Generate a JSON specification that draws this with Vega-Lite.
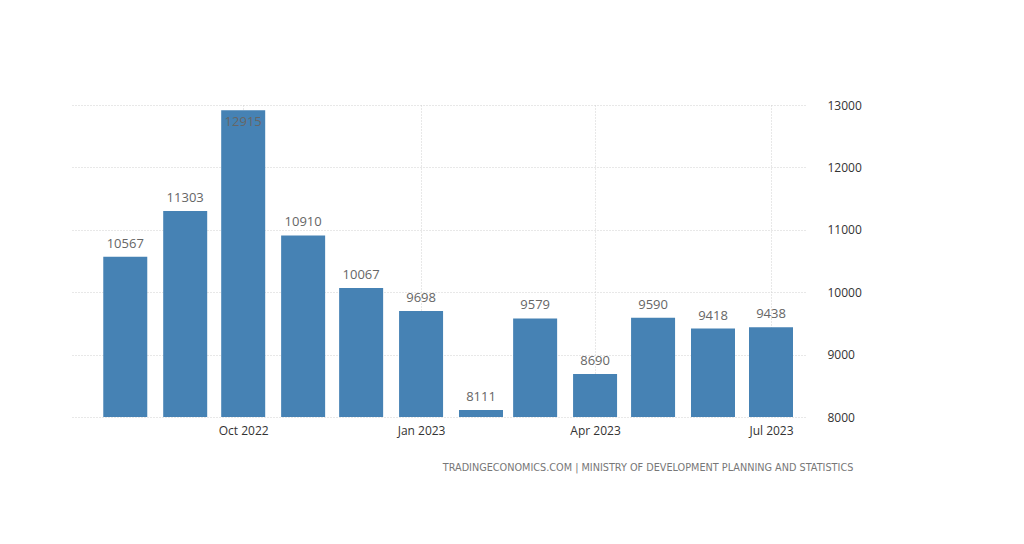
{
  "$schema": "https://vega.github.io/schema/vega-lite/v6.json",
  "width": 735,
  "height": 312,
  "padding": {"left": 70, "top": 99, "right": 10, "bottom": 10},
  "background": "white",
  "config": {
    "view": {"stroke": null},
    "font": "Open Sans"
  },
  "title": {
    "text": "TRADINGECONOMICS.COM  |  MINISTRY OF DEVELOPMENT PLANNING AND STATISTICS",
    "orient": "bottom",
    "anchor": "end",
    "frame": "bounds",
    "font": "DejaVu Sans",
    "fontSize": 9.7,
    "fontWeight": "normal",
    "color": "#777777",
    "offset": 27,
    "dx": -8
  },
  "data": {
    "values": [
      {"month": "2022-08-01", "value": 10567},
      {"month": "2022-09-01", "value": 11303},
      {"month": "2022-10-01", "value": 12915},
      {"month": "2022-11-01", "value": 10910},
      {"month": "2022-12-01", "value": 10067},
      {"month": "2023-01-01", "value": 9698},
      {"month": "2023-02-01", "value": 8111},
      {"month": "2023-03-01", "value": 9579},
      {"month": "2023-04-01", "value": 8690},
      {"month": "2023-05-01", "value": 9590},
      {"month": "2023-06-01", "value": 9418},
      {"month": "2023-07-01", "value": 9438}
    ]
  },
  "encoding": {
    "x": {
      "field": "month",
      "type": "temporal",
      "scale": {"domain": ["2022-07-06", "2023-07-16"]},
      "axis": {
        "title": null,
        "values": ["2022-10-01", "2023-01-01", "2023-04-01", "2023-07-01"],
        "format": "%b %Y",
        "labelFontSize": 12,
        "labelColor": "#333333",
        "labelPadding": 8,
        "ticks": false,
        "domain": false,
        "grid": true,
        "gridColor": "#d0d0d0",
        "gridDash": [1, 2]
      }
    },
    "y": {
      "field": "value",
      "type": "quantitative",
      "scale": {"domain": [8000, 13000], "zero": false, "nice": false},
      "axis": {
        "title": null,
        "orient": "right",
        "values": [8000, 9000, 10000, 11000, 12000, 13000],
        "format": "d",
        "labelFontSize": 12,
        "labelColor": "#333333",
        "labelAlign": "left",
        "labelPadding": 22,
        "ticks": false,
        "domain": false,
        "grid": true,
        "gridColor": "#d0d0d0",
        "gridDash": [1, 2]
      }
    }
  },
  "layer": [
    {
      "mark": {"type": "bar", "size": 44, "color": "#4682B4", "clip": true},
      "encoding": {"y2": {"datum": 8000}}
    },
    {
      "transform": [{"filter": "datum.value < 12500"}],
      "mark": {"type": "text", "baseline": "bottom", "dy": -6, "fontSize": 13, "color": "#666666"},
      "encoding": {"text": {"field": "value", "type": "quantitative", "format": "d"}}
    },
    {
      "transform": [{"filter": "datum.value >= 12500"}],
      "mark": {"type": "text", "baseline": "top", "dy": 6, "fontSize": 13, "color": "#666666"},
      "encoding": {"text": {"field": "value", "type": "quantitative", "format": "d"}}
    }
  ]
}
